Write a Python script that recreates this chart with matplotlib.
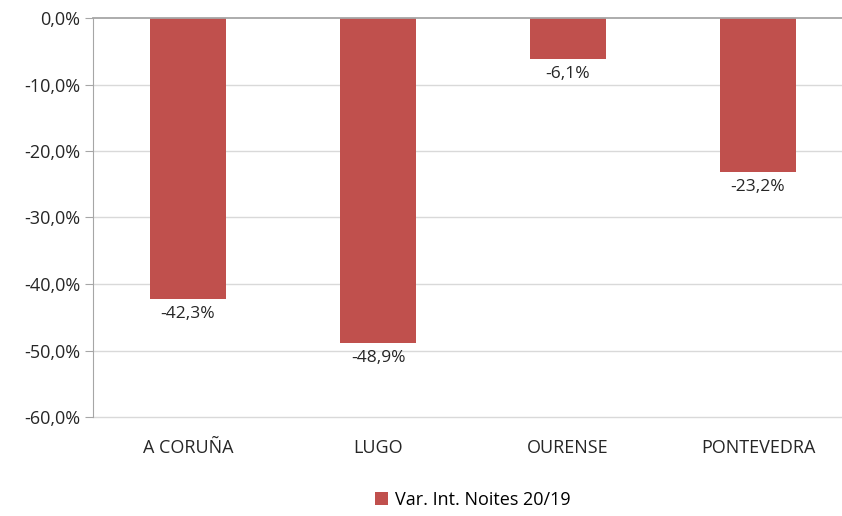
import numpy as np
import matplotlib
matplotlib.use("Agg")
import matplotlib.pyplot as plt
from matplotlib.ticker import FuncFormatter

plt.rcParams['font.family'] = ['Open Sans', 'DejaVu Sans']

### data
provincias = ["A CORUÑA", "LUGO", "OURENSE", "PONTEVEDRA"]
variacion  = [-42.3, -48.9, -6.1, -23.2]
serie      = "Var. Int. Noites 20/19"

def pct(v, pos=None):
    return ("%.1f%%" % v).replace(".", ",")

fig = plt.figure(figsize=(8.42, 5.16), dpi=100)
ax  = fig.add_axes([93/842, 1-417/516, 1-93/842, (417-18)/516])

x = np.arange(len(provincias))
bars = ax.bar(x, variacion, width=0.4, color="#C0504D", label=serie, zorder=3)

# etiquetas de valor debaixo de cada barra
for xi, v in zip(x, variacion):
    ax.annotate(pct(v), (xi, v), xytext=(0, -5), textcoords="offset points",
                ha="center", va="top", fontsize=12.5, color="#262626")

ax.set_ylim(-60, 0)
ax.set_yticks(np.arange(-60, 1, 10))
ax.yaxis.set_major_formatter(FuncFormatter(pct))
ax.set_xlim(-0.5, 3.5 - 11/190)
ax.set_xticks(x)
ax.set_xticklabels(provincias)
for g in np.arange(-60, 0, 10):
    ax.axhline(g, color="#D9D9D9", linewidth=1.0, zorder=0, clip_on=False)
ax.axhline(0, color="#A6A6A6", linewidth=1.3, zorder=4, clip_on=False)

for s in ["top", "right", "bottom"]:
    ax.spines[s].set_visible(False)
ax.spines["left"].set_color("#A6A6A6")
ax.tick_params(axis="y", length=6, color="#A6A6A6", labelsize=13, labelcolor="#262626", pad=3)
ax.tick_params(axis="x", length=0, labelsize=13, labelcolor="#262626", pad=16)

fig.legend(handles=[bars], labels=[serie], loc="center", bbox_to_anchor=(473/842, 1-500/516),
           frameon=False, fontsize=13, handlelength=0.7, handleheight=0.7, handletextpad=0.4)

fig.savefig("out.png", dpi=100)
